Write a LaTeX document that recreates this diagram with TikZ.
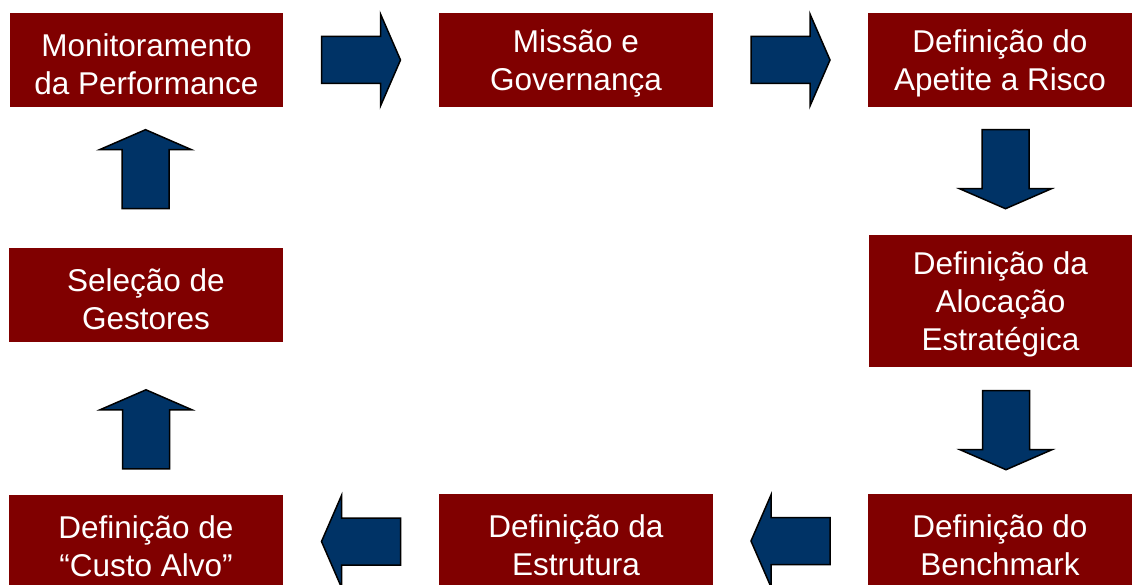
\documentclass[tikz,border=0pt]{standalone}
\usepackage{fontspec}
\setmainfont{Liberation Sans}
\usepackage{tikz}
\usetikzlibrary{calc}
\definecolor{vermelhoescuro}{HTML}{800000}
\definecolor{azulescuro}{HTML}{003366}
\newcommand{\altura}{\rule{0pt}{30.5pt}}
\tikzset{
  etapa/.style={fill=vermelhoescuro, text=white, align=center, inner sep=0pt,
    minimum width=273pt, minimum height=94pt,
    font=\fontsize{31.5}{38}\selectfont},
  setaazul/.style={draw=black, fill=azulescuro, line width=1.5pt, line join=miter},
  pics/seta/.style={code={
    \draw[setaazul] (-39.5,-23.5) -- (19.5,-23.5) -- (19.5,-46) -- (39.5,0)
      -- (19.5,46) -- (19.5,23.5) -- (-39.5,23.5) -- cycle;
  }}
}

\begin{document}
\begin{tikzpicture}[x=1pt,y=1pt]
\useasboundingbox (0,0) rectangle (1132,584);

% Etapas do processo
\node[etapa] (mon) at (146.5,524) {\altura Monitoramento\\da Performance};
\node[etapa, minimum width=274pt] (mis) at (576,524) {\altura Missão e\\Governança};
\node[etapa, minimum width=264pt] (ape) at (1000,524) {\altura Definição do\\Apetite a Risco};
\node[etapa, minimum width=263pt, minimum height=132pt] (alo) at (1000.5,283) {\altura Definição da\\Alocação\\Estratégica};
\node[etapa, minimum width=264pt] (ben) at (1000,43) {\altura Definição do\\Benchmark};
\node[etapa, minimum width=274pt] (est) at (576,43) {\altura Definição da\\Estrutura};
\node[etapa, minimum width=274pt] (cus) at (146,42) {\altura Definição de\\“Custo Alvo”};
\node[etapa, minimum width=274pt] (sel) at (146,289) {\altura Seleção de\\Gestores};

% Setas entre as etapas
\pic at ($(mon.east)!0.5!(mis.west)$) {seta};
\pic at ($(mis.east)!0.5!(ape.west)$) {seta};
\pic[rotate=-90] at ($(ape.south)+(5.5,-62)$) {seta};
\pic[rotate=-90] at ($(alo.south)+(5.5,-63)$) {seta};
\pic[rotate=180] at ($(ben.west)!0.5!(est.east)$) {seta};
\pic[rotate=180] at ($(est.west)!0.5!(cus.east)$) {seta};
\pic[rotate=90] at ($(cus.north)+(0,65.5)$) {seta};
\pic[rotate=90] at ($(mon.south)+(-1,-62)$) {seta};

\end{tikzpicture}
\end{document}
